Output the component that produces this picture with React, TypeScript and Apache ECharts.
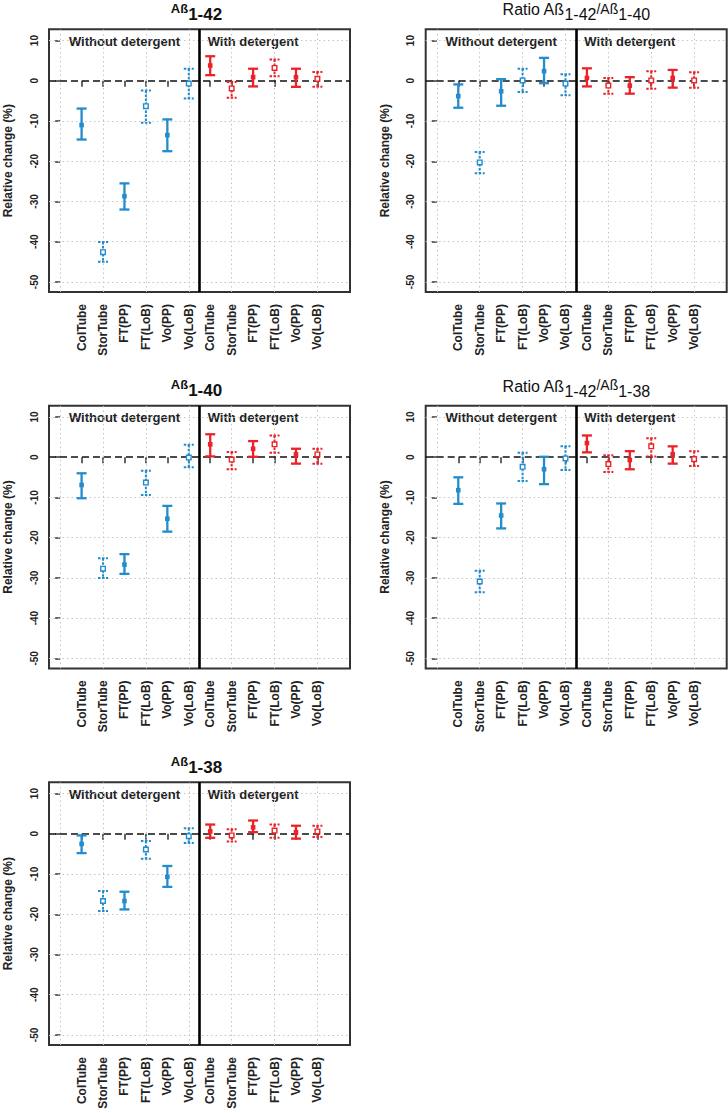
import React, { useEffect, useRef } from "react";
import * as echarts from "echarts";

// ---------- data ----------
const categories = [
  "ColTube", "StorTube", "FT(PP)", "FT(LoB)", "Vo(PP)", "Vo(LoB)",
  "ColTube", "StorTube", "FT(PP)", "FT(LoB)", "Vo(PP)", "Vo(LoB)",
];
const xPositions = [1, 2, 3, 4, 5, 6, 7, 8, 9, 10, 11, 12];
const yTicks = [-50, -40, -30, -20, -10, 0, 10];
const xGridValues = [0, 2, 4, 6, 8, 10, 12];
const dottedFlags = [0, 1, 0, 1, 0, 1, 0, 1, 0, 1, 0, 1];
const groupFlags = [0, 0, 0, 0, 0, 0, 1, 1, 1, 1, 1, 1];
const groupLabels = ["Without detergent", "With detergent"];
const groupLabelX = [3, 9];
const groupLabelY = 9.8;
const separatorX = 6.5;

// Aß1-42
const ab42Mean = [-11.0, -42.6, -28.7, -6.3, -13.5, -0.7, 3.8, -1.9, 0.9, 3.2, 0.9, 0.5];
const ab42Low = [-14.6, -45.0, -32.0, -10.4, -17.5, -4.4, 1.4, -4.2, -1.4, 1.1, -1.5, -1.5];
const ab42High = [-6.9, -40.1, -25.5, -2.4, -9.6, 3.0, 6.1, -0.3, 3.0, 5.3, 3.0, 2.2];

// Ratio Aß1-42/Aß1-40
const r4240Mean = [-3.8, -20.3, -2.6, 0.1, 2.4, -0.7, 0.7, -1.2, -1.2, 0.1, 0.7, 0.1];
const r4240Low = [-6.7, -23.0, -6.2, -2.8, -0.6, -3.6, -1.4, -3.2, -3.2, -2.0, -1.7, -1.7];
const r4240High = [-0.9, -17.7, 0.4, 3.0, 5.7, 1.6, 3.1, 0.7, 0.9, 2.4, 2.7, 2.1];

// Aß1-40
const ab40Mean = [-6.9, -27.7, -26.7, -6.3, -15.3, -0.1, 3.2, -0.6, 2.1, 3.2, 0.7, 0.7];
const ab40Low = [-10.2, -30.0, -29.0, -9.4, -18.5, -2.5, 0.2, -3.0, 0.1, 1.1, -1.6, -1.6];
const ab40High = [-4.0, -25.1, -24.1, -3.4, -12.1, 3.1, 5.7, 1.3, 4.0, 5.4, 2.1, 2.1];

// Ratio Aß1-42/Aß1-38
const r4238Mean = [-8.2, -30.9, -14.5, -2.4, -3.0, -0.3, 3.5, -1.7, -0.7, 2.7, 0.7, -0.5];
const r4238Low = [-11.6, -33.6, -17.7, -5.9, -6.7, -3.2, 1.2, -3.7, -3.0, 0.2, -1.6, -2.2];
const r4238High = [-5.0, -28.2, -11.5, 1.1, 0.1, 2.7, 5.4, 0.5, 1.5, 4.7, 2.7, 1.5];

// Aß1-38
const ab38Mean = [-2.5, -16.7, -16.7, -3.9, -10.7, -0.6, 0.6, -0.4, 1.6, 0.8, 0.4, 0.6];
const ab38Low = [-4.8, -19.2, -18.8, -6.2, -13.2, -2.3, -1.0, -1.9, 0.4, -1.0, -1.2, -0.8];
const ab38High = [-0.4, -14.2, -14.4, -1.8, -8.0, 1.4, 2.3, 1.1, 3.3, 2.3, 2.0, 2.0];

const yAxisTitle = "Relative change (%)";

// ---------- styling / layout ----------
const FONT = "Liberation Sans, Arial, Helvetica, sans-serif";
const BLUE = "#238ccd";
const RED = "#eb2328";
const X_MIN = -0.52;
const X_MAX = 13.52;
const Y_MIN = -52.5;
const Y_MAX = 12.8;
const GRID_W = 301;
const GRID_H = 262.7;

const panels = [
  { kind: "single", sub: "1-42", mean: ab42Mean, low: ab42Low, high: ab42High, left: 49, top: 29.3 },
  { kind: "ratio", sub: "1-42", sub2: "1-40", mean: r4240Mean, low: r4240Low, high: r4240High, left: 425.7, top: 29.3 },
  { kind: "single", sub: "1-40", mean: ab40Mean, low: ab40Low, high: ab40High, left: 49, top: 405.7 },
  { kind: "ratio", sub: "1-42", sub2: "1-38", mean: r4238Mean, low: r4238Low, high: r4238High, left: 425.7, top: 405.7 },
  { kind: "single", sub: "1-38", mean: ab38Mean, low: ab38Low, high: ab38High, left: 49, top: 782.3 },
];

function buildOption() {
  const grid: any[] = [];
  const xAxis: any[] = [];
  const yAxis: any[] = [];
  const series: any[] = [];
  const graphic: any[] = [];

  panels.forEach((p, i) => {
    grid.push({
      left: p.left,
      top: p.top,
      width: GRID_W,
      height: GRID_H,
      show: true,
      borderColor: "#333",
      borderWidth: 2,
      backgroundColor: "transparent",
    });
    xAxis.push({
      gridIndex: i,
      type: "value",
      min: X_MIN,
      max: X_MAX,
      axisLine: { show: false },
      splitLine: { show: false },
      axisTick: {
        show: true,
        customValues: xPositions,
        length: 6,
        lineStyle: { color: "#333", width: 1.5 },
      },
      axisLabel: {
        show: true,
        customValues: xPositions,
        rotate: 90,
        margin: 12,
        fontSize: 12,
        fontWeight: "bold",
        fontFamily: FONT,
        color: "#222",
        formatter: (v: number) => categories[Math.round(v) - 1] ?? "",
      },
    });
    yAxis.push({
      gridIndex: i,
      type: "value",
      min: Y_MIN,
      max: Y_MAX,
      axisLine: { show: false },
      splitLine: { show: false },
      axisTick: {
        show: true,
        customValues: yTicks,
        length: 5,
        lineStyle: { color: "#333", width: 1.5 },
      },
      axisLabel: {
        show: true,
        customValues: yTicks,
        rotate: 90,
        margin: 10,
        fontSize: 10,
        fontWeight: "bold",
        fontFamily: FONT,
        color: "#222",
      },
      name: yAxisTitle,
      nameLocation: "middle",
      nameRotate: 90,
      nameGap: 35,
      nameTextStyle: { fontSize: 12, fontWeight: "bold", fontFamily: FONT, color: "#222" },
    });

    const gridLines: any[] = [];
    xGridValues.forEach((v) =>
      gridLines.push({ xAxis: v, lineStyle: { color: "#c4c4c4", width: 1, type: [1.5, 3] } })
    );
    yTicks.forEach((v) => {
      if (v !== 0) gridLines.push({ yAxis: v, lineStyle: { color: "#c4c4c4", width: 1, type: [1.5, 3] } });
    });
    gridLines.push({ yAxis: 0, lineStyle: { color: "#111", width: 1.6, type: [7, 4] } });
    gridLines.push({ xAxis: separatorX, lineStyle: { color: "#000", width: 2.6, type: "solid" } });

    // decor: group labels + grid lines
    series.push({
      type: "custom",
      xAxisIndex: i,
      yAxisIndex: i,
      z: 2,
      silent: true,
      data: groupLabelX.map((x, k) => [x, groupLabelY, k]),
      renderItem: (params: any, api: any) => {
        const pt = api.coord([api.value(0), api.value(1)]);
        return {
          type: "text",
          x: pt[0],
          y: pt[1],
          style: {
            text: groupLabels[api.value(2)],
            align: "center",
            verticalAlign: "middle",
            fontSize: 13,
            fontWeight: "bold",
            fontFamily: FONT,
            fill: "#222",
          },
        };
      },
      markLine: {
        silent: true,
        symbol: ["none", "none"],
        label: { show: false },
        animation: false,
        data: gridLines,
      },
    });

    // error bars
    const rows = xPositions.map((x, k) => [x, p.mean[k], p.low[k], p.high[k], dottedFlags[k], groupFlags[k]]);
    series.push({
      type: "custom",
      xAxisIndex: i,
      yAxisIndex: i,
      z: 5,
      data: rows,
      renderItem: (params: any, api: any) => {
        const x = api.value(0);
        const m = api.coord([x, api.value(1)]);
        const lo = api.coord([x, api.value(2)]);
        const hi = api.coord([x, api.value(3)]);
        const dotted = api.value(4) === 1;
        const color = api.value(5) === 0 ? BLUE : RED;
        const cw = 5;
        const ls: any = {
          stroke: color,
          lineWidth: dotted ? 2 : 2.3,
          fill: null,
        };
        if (dotted) ls.lineDash = [2.5, 1.5];
        return {
          type: "group",
          children: [
            { type: "line", shape: { x1: m[0], y1: hi[1], x2: m[0], y2: lo[1] }, style: ls },
            { type: "line", shape: { x1: m[0] - cw, y1: hi[1], x2: m[0] + cw, y2: hi[1] }, style: ls },
            { type: "line", shape: { x1: m[0] - cw, y1: lo[1], x2: m[0] + cw, y2: lo[1] }, style: ls },
            {
              type: "rect",
              shape: { x: m[0] - 2.3, y: m[1] - 2.3, width: 4.6, height: 4.6 },
              style: dotted ? { fill: "#fff", stroke: color, lineWidth: 1.4 } : { fill: color },
            },
          ],
        };
      },
    });

    // title
    const cx = p.left + GRID_W / 2;
    const ty = p.top - 27.5;
    if (p.kind === "single") {
      graphic.push({
        type: "text",
        x: cx - 3,
        y: ty,
        style: {
          text: `{a|Aß}{n|${p.sub}}`,
          align: "center",
          verticalAlign: "top",
          fill: "#111",
          rich: {
            a: { fontSize: 13, fontWeight: "bold", fontFamily: FONT, lineHeight: 14, verticalAlign: "top", fill: "#111" },
            n: { fontSize: 17, fontWeight: "bold", fontFamily: FONT, lineHeight: 21, verticalAlign: "bottom", fill: "#111" },
          },
        },
      });
    } else {
      graphic.push({
        type: "text",
        x: cx,
        y: ty,
        style: {
          text: `{r|Ratio Aß}{n|${p.sub}}{s|/Aß}{n|${p.sub2}}`,
          align: "center",
          verticalAlign: "top",
          fill: "#111",
          rich: {
            r: { fontSize: 16, fontFamily: FONT, lineHeight: 17, verticalAlign: "top", fill: "#111" },
            n: { fontSize: 16, fontFamily: FONT, lineHeight: 21, verticalAlign: "bottom", fill: "#111" },
            s: { fontSize: 14, fontFamily: FONT, lineHeight: 16, verticalAlign: "top", fill: "#111" },
          },
        },
      });
    }
  });

  return {
    animation: false,
    backgroundColor: "#fff",
    grid,
    xAxis,
    yAxis,
    series,
    graphic,
  };
}

export default function App() {
  const ref = useRef<HTMLDivElement>(null);
  useEffect(() => {
    document.body.style.margin = "0";
    if (!ref.current) return;
    const chart = echarts.init(ref.current, null, { renderer: "svg" });
    chart.setOption(buildOption() as any);
    return () => chart.dispose();
  }, []);
  return <div ref={ref} style={{ width: 728, height: 1113 }} />;
}
